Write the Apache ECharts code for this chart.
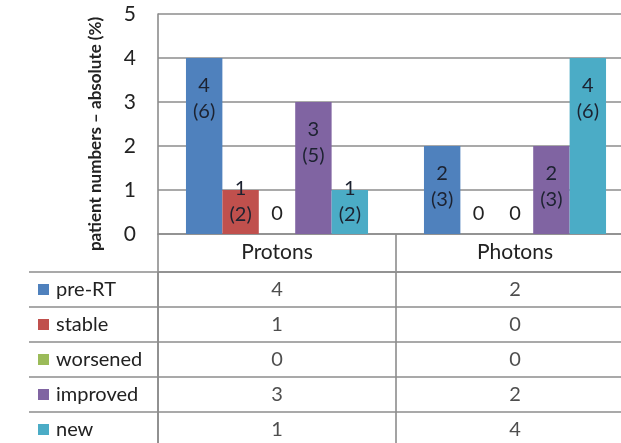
<!DOCTYPE html>
<html>
<head>
<meta charset="utf-8">
<script src="https://cdn.jsdelivr.net/npm/echarts@6/dist/echarts.min.js"></script>
<style>
html,body{margin:0;padding:0;background:#fff;}
#chart{width:621px;height:443px;}
</style>
</head>
<body>
<div id="chart"></div>
<script>
// ---- data ----
const categories = ['Protons', 'Photons'];
const seriesNames = ['pre-RT', 'stable', 'worsened', 'improved', 'new'];
const preRT = [4, 2];
const stable = [1, 0];
const worsened = [0, 0];
const improved = [3, 2];
const newer = [1, 4];
// percentages shown in parentheses
const preRTPct = [6, 3];
const stablePct = [2, 0];
const worsenedPct = [0, 0];
const improvedPct = [5, 3];
const newPct = [2, 6];
const yTicks = [0, 1, 2, 3, 4, 5];
const yTitle = 'patient numbers – absolute (%)';

const values = [preRT, stable, worsened, improved, newer];
const pcts = [preRTPct, stablePct, worsenedPct, improvedPct, newPct];
const colors = ['#4F81BD', '#C0504D', '#9BBB59', '#8064A2', '#4BACC6'];

const FONT = 'Lato';
const TXT = '#222222';
const LBL = '#1c2230';
const LINE = '#8c8c8c';
const LW = 1.6;

function labelFor(v, p) {
  const base = {
    show: true,
    color: LBL,
    fontFamily: FONT,
    fontSize: 20,
    lineHeight: 26,
    formatter: v > 0 ? (v + '\n(' + p + ')') : String(v)
  };
  if (v >= 2) return Object.assign(base, {position: 'insideTop', distance: 15});
  if (v === 1) return Object.assign(base, {position: 'insideTop', distance: 15, offset: [0, -29]});
  return Object.assign(base, {position: 'top', distance: 7, color: TXT});
}

const barSeries = seriesNames.map((name, i) => ({
  name: name,
  type: 'bar',
  xAxisIndex: 0,
  yAxisIndex: 0,
  barGap: '0%',
  barCategoryGap: '23.5%',
  itemStyle: {color: colors[i]},
  data: values[i].map((v, j) => ({value: v, label: labelFor(v, pcts[i][j])})),
  z: 3
}));

const tableData = [];
values.forEach((arr, i) => arr.forEach((v, j) => tableData.push([categories[j], seriesNames[i], v])));

const tableSeries = {
  type: 'scatter',
  xAxisIndex: 1,
  yAxisIndex: 1,
  symbolSize: 0,
  silent: true,
  data: tableData,
  label: {
    show: true,
    position: 'inside',
    color: TXT,
    fontFamily: FONT,
    fontSize: 20,
    formatter: p => String(p.value[2])
  }
};

const rich = {t: {color: TXT, fontFamily: FONT, fontSize: 20, padding: [0, 0, 0, 7]}};
seriesNames.forEach((n, i) => {
  rich['s' + i] = {width: 11, height: 11, backgroundColor: colors[i]};
});

const option = {
  backgroundColor: '#fff',
  animation: false,
  grid: [
    {left: 158, top: 14, width: 476, height: 220, containLabel: false, outerBoundsMode: 'none'},
    {left: 158, top: 272, width: 476, height: 175, containLabel: false, outerBoundsMode: 'none'}
  ],
  xAxis: [
    {
      type: 'category', gridIndex: 0, data: categories,
      axisLine: {show: true, lineStyle: {color: LINE, width: LW}},
      axisTick: {show: true, length: 37, interval: 0, lineStyle: {color: LINE, width: LW}},
      axisLabel: {color: TXT, fontFamily: FONT, fontSize: 21, margin: 8}
    },
    {
      type: 'category', gridIndex: 1, data: categories, position: 'top',
      axisLine: {show: true, lineStyle: {color: LINE, width: LW}},
      axisTick: {show: false},
      axisLabel: {show: false},
      splitLine: {show: true, interval: 0, lineStyle: {color: LINE, width: LW}}
    }
  ],
  yAxis: [
    {
      type: 'value', gridIndex: 0, min: yTicks[0], max: yTicks[yTicks.length - 1], interval: 1,
      name: yTitle, nameLocation: 'middle', nameRotate: 90, nameGap: 54,
      nameTextStyle: {color: TXT, fontFamily: FONT, fontWeight: 'bold', fontSize: 17, padding: [0, 20, 0, 0]},
      axisLine: {show: true, lineStyle: {color: LINE, width: LW}},
      axisTick: {show: false},
      splitLine: {show: true, lineStyle: {color: LINE, width: LW}},
      axisLabel: {color: TXT, fontFamily: FONT, fontSize: 21, margin: 22}
    },
    {
      type: 'category', gridIndex: 1, data: seriesNames, inverse: true,
      axisLine: {show: true, lineStyle: {color: LINE, width: LW}},
      axisTick: {show: true, length: 129, interval: 0, lineStyle: {color: LINE, width: LW}},
      splitLine: {show: true, interval: 0, lineStyle: {color: LINE, width: LW}},
      axisLabel: {
        margin: 120, align: 'left', interval: 0,
        formatter: (val, idx) => '{s' + idx + '|}{t|' + val + '}',
        rich: rich
      }
    },
    {
      type: 'category', gridIndex: 1, data: seriesNames, inverse: true, offset: 129,
      axisLine: {show: true, lineStyle: {color: LINE, width: LW}},
      axisTick: {show: false},
      axisLabel: {show: false}
    }
  ],
  series: barSeries.concat([tableSeries])
};

const chart = echarts.init(document.getElementById('chart'), null, {renderer: 'canvas'});
chart.setOption(option);
</script>
</body>
</html>
